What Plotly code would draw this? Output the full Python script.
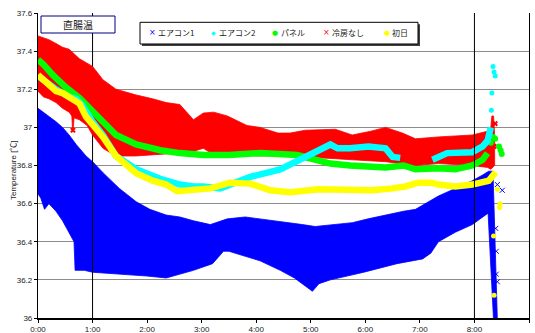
import plotly.graph_objects as go

# ---- axis labels -------------------------------------------------------
hour_ticks = [0, 1, 2, 3, 4, 5, 6, 7, 8, 9]
hour_labels = ["0:00", "1:00", "2:00", "3:00", "4:00", "5:00", "6:00", "7:00", "8:00", "9:00"]
temp_ticks = [36.0, 36.2, 36.4, 36.6, 36.8, 37.0, 37.2, 37.4, 37.6]
temp_labels = ["36", "36.2", "36.4", "36.6", "36.8", "37", "37.2", "37.4", "37.6"]
y_title = "Temperature [℃]"

series_names = ["エアコン1", "エアコン2", "パネル", "冷房なし", "初日"]
series_colors = ["#0000FF", "#00FFFF", "#00FF00", "#FF0000", "#FFFF00"]
legend_glyphs = ["×", "◆", "●", "×", "●"]

# ---- エアコン1 : dense oscillating record, upper / lower envelope (h, ℃) --
ac1_upper_t = [0.0, 0.1, 0.2, 0.33, 0.45, 0.57, 0.7, 0.88, 1.0, 1.2, 1.49, 1.8, 2.05, 2.35,
               2.6, 2.85, 3.16, 3.47, 3.8, 4.07, 4.4, 4.62, 4.85, 5.08, 5.4, 5.76, 6.05,
               6.37, 6.7, 6.92, 7.1, 7.34, 7.65, 7.96, 8.15, 8.26, 8.34, 8.37, 8.40, 8.42]
ac1_upper_v = [37.10, 37.08, 37.06, 37.03, 37.00, 36.96, 36.91, 36.85, 36.82, 36.76, 36.68,
               36.61, 36.57, 36.54, 36.53, 36.51, 36.49, 36.52, 36.53, 36.52, 36.51, 36.50,
               36.49, 36.48, 36.49, 36.50, 36.52, 36.54, 36.56, 36.57, 36.60, 36.64, 36.68,
               36.72, 36.75, 36.77, 36.77, 36.45, 36.15, 35.99]
ac1_lower_t = [0.0, 0.05, 0.12, 0.2, 0.33, 0.45, 0.57, 0.66, 0.68, 0.85, 1.0, 1.49, 2.0,
               2.35, 2.6, 2.85, 3.2, 3.4, 3.5, 3.83, 4.07, 4.44, 4.7, 5.03, 5.15, 5.36,
               5.97, 6.58, 7.05, 7.2, 7.34, 7.65, 7.96, 8.25, 8.30, 8.35]
ac1_lower_v = [36.65, 36.63, 36.57, 36.60, 36.56, 36.51, 36.45, 36.40, 36.25, 36.25, 36.24,
               36.23, 36.22, 36.21, 36.23, 36.25, 36.285, 36.35, 36.35, 36.32, 36.30, 36.25,
               36.21, 36.14, 36.18, 36.20, 36.24, 36.285, 36.31, 36.34, 36.40, 36.45, 36.49,
               36.55, 36.30, 35.99]
ac1_extra_t = [8.42, 8.51, 8.39, 8.40, 8.40, 8.42]
ac1_extra_v = [36.70, 36.67, 36.47, 36.35, 36.23, 36.19]

# ---- 冷房なし : upper / lower envelope ----------------------------------
nocool_upper_t = [0.0, 0.1, 0.2, 0.33, 0.45, 0.57, 0.76, 1.0, 1.19, 1.43, 1.8, 2.1, 2.35,
                  2.6, 2.85, 3.03, 3.22, 3.47, 3.83, 4.07, 4.4, 4.62, 4.9, 5.45, 5.76, 6.1,
                  6.37, 6.68, 6.92, 7.34, 7.96, 8.24, 8.30, 8.32, 8.35, 8.37]
nocool_upper_v = [37.48, 37.47, 37.46, 37.44, 37.42, 37.41, 37.36, 37.32, 37.25, 37.20,
                  37.17, 37.15, 37.13, 37.12, 37.04, 37.075, 37.08, 37.06, 37.01, 37.00,
                  36.97, 36.97, 36.985, 36.99, 36.96, 36.98, 37.00, 36.97, 36.94, 36.95,
                  36.96, 36.98, 37.00, 37.06, 37.06, 36.96]
nocool_lower_t = [0.0, 0.1, 0.2, 0.33, 0.45, 0.57, 0.62, 0.635, 0.645, 0.66, 0.76, 0.9,
                  1.0, 1.19, 1.43, 1.8, 2.35, 2.8, 3.03, 3.2, 3.6, 4.0, 4.62, 5.14, 5.76,
                  6.37, 6.92, 7.34, 7.96, 8.24, 8.30, 8.37]
nocool_lower_v = [37.19, 37.16, 37.15, 37.13, 37.10, 37.08, 37.06, 36.98, 36.98, 37.05,
                  37.04, 37.01, 36.96, 36.89, 36.85, 36.85, 36.86, 36.87, 36.89, 36.86,
                  36.86, 36.85, 36.85, 36.84, 36.83, 36.82, 36.80, 36.81, 36.80, 36.79,
                  36.78, 36.80]
nocool_extra_t = [0.64, 8.38, 8.36]
nocool_extra_v = [36.985, 37.02, 36.90]

# ---- エアコン2 --------------------------------------------------------------
ac2_t = [0.0, 0.15, 0.33, 0.45, 0.57, 0.7, 0.8, 1.0, 1.19, 1.43, 1.8, 2.24, 2.6, 2.85,
         3.03, 3.34, 3.52, 3.89, 4.44, 4.81, 5.05, 5.36, 5.49, 5.72, 6.06, 6.37, 6.5,
         6.64, None, 7.23, 7.5, 7.96, 8.15, 8.24, 8.30]
ac2_v = [37.27, 37.235, 37.20, 37.18, 37.16, 37.15, 37.12, 37.03, 36.96, 36.85, 36.78,
         36.73, 36.70, 36.69, 36.69, 36.68, 36.70, 36.74, 36.78, 36.83, 36.87, 36.91,
         36.89, 36.89, 36.90, 36.89, 36.845, 36.84, None, 36.83, 36.865, 36.87, 36.90,
         36.93, 37.00]
ac2_extra_t = [8.31, 8.32, 8.34, 8.36, 8.38]
ac2_extra_v = [37.09, 37.18, 37.32, 37.29, 37.27]

# ---- パネル ----------------------------------------------------------------
panel_t = [0.0, 0.1, 0.27, 0.45, 0.51, 0.76, 1.0, 1.19, 1.43, 1.8, 2.24, 2.6, 3.03, 3.5,
           4.07, 4.75, 5.12, 5.36, 5.72, 6.37, 6.7, 6.92, 7.34, 7.65, 7.96, 8.15, 8.24]
panel_v = [37.355, 37.33, 37.275, 37.22, 37.21, 37.155, 37.085, 37.03, 36.96, 36.91,
           36.88, 36.865, 36.855, 36.855, 36.865, 36.855, 36.83, 36.81, 36.80, 36.79,
           36.80, 36.78, 36.785, 36.78, 36.80, 36.83, 36.865]
panel_extra_t = [8.30, 8.34, 8.38, 8.45, 8.48, 8.50]
panel_extra_v = [36.92, 36.95, 36.94, 36.90, 36.88, 36.86]

# ---- 初日 ----------------------------------------------------------------
first_t = [0.0, 0.15, 0.33, 0.45, 0.57, 0.7, 0.76, 0.88, 1.06, 1.19, 1.43, 1.8, 2.1, 2.35,
           2.55, 2.85, 3.16, 3.52, 3.71, 3.89, 4.26, 4.62, 5.14, 5.76, 6.13, 6.5, 6.73,
           6.97, 7.2, 7.34, 7.65, 7.96, 8.26, 8.39]
first_v = [37.275, 37.24, 37.19, 37.18, 37.16, 37.135, 37.125, 37.056, 37.00, 36.95,
           36.85, 36.76, 36.72, 36.70, 36.665, 36.67, 36.68, 36.71, 36.71, 36.705, 36.67,
           36.66, 36.675, 36.675, 36.67, 36.68, 36.69, 36.71, 36.71, 36.70, 36.69, 36.70,
           36.72, 36.765]
first_extra_t = [8.42, 8.46, 8.47, 8.35, 8.36]
first_extra_v = [36.675, 36.58, 36.60, 36.43, 36.12]

# reference hours marked with vertical rules
marker_hours = [1, 8]

# ---- plot geometry (pixels of the 535x333 page) ------------------------
W, H = 535, 333
L, R, T, B = 38, 529, 13, 318


def xp(px):
    return (px - L) / (R - L)


def yp(py):
    return (B - py) / (B - T)


def band(upper_t, upper_v, lower_t, lower_v, color, name):
    return go.Scatter(
        x=list(upper_t) + list(reversed(lower_t)),
        y=list(upper_v) + list(reversed(lower_v)),
        mode="lines", fill="toself", fillcolor=color,
        line=dict(color=color, width=0.8), name=name, showlegend=False,
        hoverinfo="skip")


def thick(t, v, color, name):
    return go.Scatter(x=t, y=v, mode="lines", line=dict(color=color, width=6.5),
                      connectgaps=False, name=name, showlegend=False)


def dots(t, v, color, symbol, size):
    return go.Scatter(x=t, y=v, mode="markers",
                      marker=dict(color=color, symbol=symbol, size=size,
                                  line=dict(width=0)),
                      showlegend=False, hoverinfo="skip")


def vrule(hour):
    return go.Scatter(x=[hour, hour], y=[temp_ticks[0], temp_ticks[-1]], mode="lines",
                      line=dict(color="black", width=1), showlegend=False,
                      hoverinfo="skip")


c_ac1, c_ac2, c_panel, c_nocool, c_first = series_colors

fig = go.Figure()
fig.add_trace(band(ac1_upper_t, ac1_upper_v, ac1_lower_t, ac1_lower_v, c_ac1, series_names[0]))
fig.add_trace(dots(ac1_extra_t, ac1_extra_v, c_ac1, "x-thin-open", 5))
fig.add_trace(vrule(marker_hours[0]))
fig.add_trace(band(nocool_upper_t, nocool_upper_v, nocool_lower_t, nocool_lower_v,
                   c_nocool, series_names[3]))
fig.add_trace(dots(nocool_extra_t, nocool_extra_v, c_nocool, "x", 5))
fig.add_trace(thick(panel_t, panel_v, c_panel, series_names[2]))
fig.add_trace(dots(panel_extra_t, panel_extra_v, c_panel, "circle", 6))
fig.add_trace(thick(ac2_t, ac2_v, c_ac2, series_names[1]))
fig.add_trace(dots(ac2_extra_t, ac2_extra_v, c_ac2, "circle", 5))
fig.add_trace(thick(first_t, first_v, c_first, series_names[4]))
fig.add_trace(dots(first_extra_t, first_extra_v, c_first, "circle", 5))
fig.add_trace(vrule(marker_hours[1]))

font_main = "Liberation Sans, Arial, Noto Sans CJK JP, sans-serif"
font_jp = "Noto Sans CJK JP, sans-serif"
text_color = "#1a1a1a"

fig.update_layout(
    width=W, height=H,
    margin=dict(l=L, r=W - R, t=T, b=H - B, pad=0, autoexpand=False),
    paper_bgcolor="white", plot_bgcolor="white",
    font=dict(family=font_main, size=8, color=text_color),
    showlegend=False,
    xaxis=dict(range=[hour_ticks[0], hour_ticks[-1]], tickmode="array",
               tickvals=hour_ticks, ticktext=hour_labels, showgrid=False,
               zeroline=False, showline=True, linecolor="black", linewidth=1.5,
               ticks="outside", ticklen=3, tickcolor="black", automargin=False,
               tickfont=dict(size=8, color=text_color)),
    yaxis=dict(range=[temp_ticks[0], temp_ticks[-1]], tickmode="array",
               tickvals=temp_ticks, ticktext=temp_labels, showgrid=True,
               gridcolor="#8c8c8c", gridwidth=1, zeroline=False,
               showline=True, linecolor="black", linewidth=1.2, mirror=True,
               ticks="outside", ticklen=3, tickcolor="black", automargin=False,
               tickfont=dict(size=8, color=text_color)),
)

# rotated y-axis title
fig.add_annotation(x=xp(13), y=yp(170), xref="paper", yref="paper", text=y_title,
                   textangle=-90, showarrow=False, xanchor="center", yanchor="middle",
                   font=dict(size=8, color=text_color))

# title box
fig.add_shape(type="rect", xref="paper", yref="paper",
              x0=xp(41), x1=xp(115), y0=yp(33), y1=yp(16),
              line=dict(color="#000080", width=1), fillcolor="white", layer="above")
fig.add_annotation(x=xp(78), y=yp(24.5), xref="paper", yref="paper", text="直腸温",
                   showarrow=False, xanchor="center", yanchor="middle",
                   font=dict(family=font_jp, size=10, color=text_color))

# legend box with drop shadow
fig.add_shape(type="rect", xref="paper", yref="paper",
              x0=xp(142), x1=xp(420), y0=yp(46), y1=yp(24.3),
              line=dict(color="#404040", width=0), fillcolor="#404040", layer="above")
fig.add_shape(type="rect", xref="paper", yref="paper",
              x0=xp(140), x1=xp(418), y0=yp(44), y1=yp(22.3),
              line=dict(color="black", width=1), fillcolor="white", layer="above")

legend_symbol_px = [152.7, 213.0, 275.0, 326.7, 386.7]
legend_glyph_size = [8, 6, 7, 8, 7]
for name, color, glyph, gsize, sx in zip(series_names, series_colors, legend_glyphs,
                                         legend_glyph_size, legend_symbol_px):
    fig.add_annotation(x=xp(sx), y=yp(32.8), xref="paper", yref="paper", text=glyph,
                       showarrow=False, xanchor="center", yanchor="middle",
                       font=dict(family="DejaVu Sans", size=gsize, color=color))
    fig.add_annotation(x=xp(sx + 3.5), y=yp(32.6), xref="paper", yref="paper", text=name,
                       showarrow=False, xanchor="left", yanchor="middle",
                       font=dict(family=font_jp, size=8, color=text_color))

fig.write_html("out.html")
